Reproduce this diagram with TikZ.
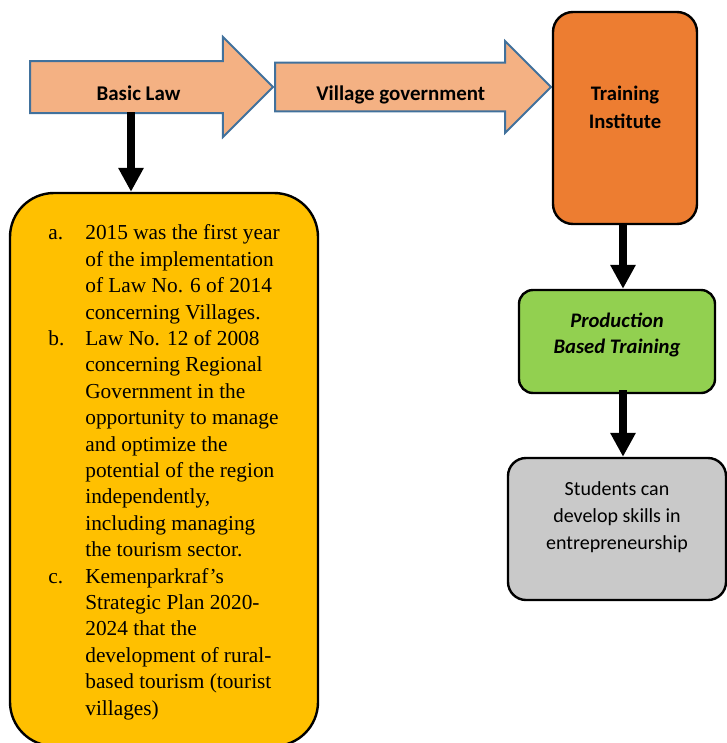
\documentclass[tikz,border=0pt]{standalone}
\usepackage{fontspec}
\setmainfont{Liberation Serif}
\newfontfamily\calibri{Carlito}
\usepackage{xcolor}
\definecolor{cPeach}{HTML}{F4B183}
\definecolor{cEdge}{HTML}{41719C}
\definecolor{cOrange}{HTML}{ED7D31}
\definecolor{cYellow}{HTML}{FFC000}
\definecolor{cGreen}{HTML}{92D050}
\definecolor{cGray}{HTML}{C9C9C9}
\usepackage{tikz}
\usetikzlibrary{positioning,arrows.meta,shapes.arrows}
\tikzset{
  node-box/.style={draw=black,line width=1.8pt,align=center,inner sep=0pt},
  node-flow/.style={single arrow,draw=cEdge,fill=cPeach,line width=1.5pt,
    anchor=tail,inner ysep=0pt,font=\calibri\bfseries\fontsize{15.7}{19}\selectfont},
  arrow-down/.style={-{Triangle[length=18pt,width=18pt]},line width=6pt,draw=black},
}
\newcommand{\lawlbl}[1]{\makebox[27.75pt][l]{#1}}
\newcommand{\lawind}{\hspace*{27.75pt}}

\begin{document}
\begin{tikzpicture}[x=0.75pt,y=-0.75pt]
  \useasboundingbox (0,0) rectangle (727,743);
  % top row of block arrows
  \node[node-flow,minimum height=182.25pt,single arrow head extend=18pt,
    text height=28.5pt,text depth=9pt] (law) at (29,87) {Basic Law};
  \node[node-flow,minimum height=207pt,single arrow head extend=16pt,
    text height=27.7pt,text depth=7.5pt] (gov) at (274,87) {Village government};
  \node[node-box,fill=cOrange,rounded corners=15pt,minimum width=108pt,
    minimum height=159pt,text depth=16.5pt,
    font=\calibri\bfseries\fontsize{15.5}{21}\selectfont] (inst) at (625,118) {Training\\Institute};
  % left column
  \node[node-box,fill=cYellow,rounded corners=33pt,minimum width=231pt,
    minimum height=414.75pt,align=left,text height=372pt,text depth=3.75pt,
    font=\fontsize{16}{19.8}\selectfont] (lawbox) at (164,469.5) {%
    \lawlbl{a.}2015 was the first year\\
    \lawind of the implementation\\
    \lawind of Law No. 6 of 2014\\
    \lawind concerning Villages.\\
    \lawlbl{b.}Law No. 12 of 2008\\
    \lawind concerning Regional\\
    \lawind Government in the\\
    \lawind opportunity to manage\\
    \lawind and optimize the\\
    \lawind potential of the region\\
    \lawind independently,\\
    \lawind including managing\\
    \lawind the tourism sector.\\
    \lawlbl{c.}Kemenparkraf's\\
    \lawind Strategic Plan 2020-\\
    \lawind 2024 that the\\
    \lawind development of rural-\\
    \lawind based tourism (tourist\\
    \lawind villages)};
  % right column
  \node[node-box,fill=cGreen,rounded corners=10.5pt,minimum width=147pt,
    minimum height=77.25pt,text depth=12.75pt,
    font=\calibri\bfseries\itshape\fontsize{15.5}{19.5}\selectfont] (prod) at (617,341.5) {Production\\Based Training};
  \node[node-box,fill=cGray,rounded corners=13.5pt,minimum width=163.5pt,
    minimum height=106.5pt,text depth=20.2pt,
    font=\calibri\fontsize{15}{20.6}\selectfont] (skill) at (617,529) {Students can\\develop skills in\\entrepreneurship};
  \coordinate (drop) at (131,112);
  \draw[arrow-down] (drop) -- (drop |- lawbox.north);
  \draw[arrow-down] ([xshift=-1.5pt]inst.south) -- ([xshift=-1.5pt]inst.south |- prod.north);
  \draw[arrow-down] ([xshift=-1.5pt,yshift=3pt]prod.south -| inst.south) -- ([xshift=-1.5pt]inst.south |- skill.north);
\end{tikzpicture}
\end{document}
